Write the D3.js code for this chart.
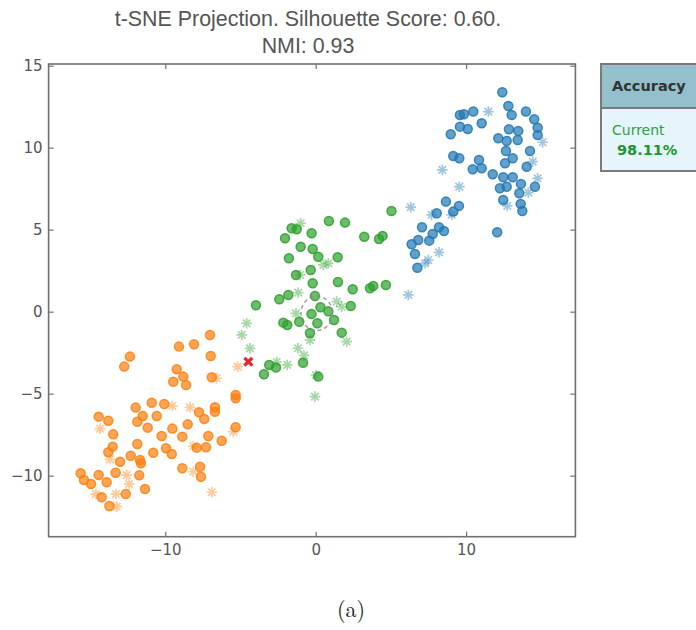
<!DOCTYPE html>
<html>
<head>
<meta charset="utf-8">
<script src="https://cdn.jsdelivr.net/npm/d3@7"></script>
<style>
  body { margin: 0; background: #fff; }
  svg { display: block; }
</style>
</head>
<body>
<svg id="chart" width="696" height="630"></svg>
<script>
// t-SNE points, [x, y]
var orangeCircles = [
    [-7.03, -1.42], [-9.09, -2.13], [-8.09, -1.99], [-12.35, -2.74], [-12.73, -3.35],
    [-6.98, -2.70], [-9.24, -3.51], [-8.80, -3.96], [-9.47, -4.27], [-8.62, -4.47],
    [-6.91, -4.00], [-5.32, -5.08], [-5.32, -5.28], [-10.90, -5.55], [-10.07, -5.63],
    [-11.97, -5.85], [-6.70, -5.83], [-6.70, -6.10], [-7.76, -6.13], [-7.41, -6.54],
    [-14.43, -6.40], [-13.79, -6.65], [-11.50, -6.36], [-10.57, -6.36], [-11.86, -6.71],
    [-8.51, -6.87], [-11.17, -7.07], [-9.53, -7.13], [-5.32, -7.05], [-13.46, -7.48],
    [-10.24, -7.58], [-8.87, -7.62], [-7.14, -7.58], [-6.25, -7.87], [-11.86, -8.07],
    [-13.50, -8.23], [-13.79, -8.57], [-9.95, -8.33], [-9.57, -8.68], [-7.91, -8.29],
    [-7.29, -8.27], [-10.80, -8.60], [-12.30, -8.78], [-13.01, -9.15], [-11.68, -9.04],
    [-11.62, -9.24], [-8.87, -9.55], [-7.69, -9.45], [-7.63, -10.06], [-15.63, -9.85],
    [-15.41, -10.26], [-14.94, -10.51], [-14.43, -9.96], [-13.90, -10.40], [-13.30, -9.82],
    [-11.73, -9.98], [-11.35, -10.81], [-12.63, -11.12], [-14.23, -11.32], [-13.72, -11.85]
];
var orangeStars = [
    [-5.19, -3.35], [-6.58, -4.06], [-9.53, -5.75], [-8.36, -5.83], [-14.34, -7.13],
    [-5.48, -7.32], [-8.14, -8.19], [-13.68, -9.00], [-8.14, -9.76], [-12.57, -9.96],
    [-12.41, -10.52], [-14.61, -11.12], [-13.28, -11.12], [-13.23, -11.89], [-6.91, -11.01]
];
var greenCircles = [
    [5.04, 6.14], [0.88, 5.53], [1.95, 5.43], [3.23, 4.57], [4.21, 4.43],
    [4.45, 4.62], [-1.60, 5.09], [-1.26, 5.02], [-0.27, 4.78], [-2.04, 4.48],
    [-1.00, 3.96], [-0.20, 3.82], [-1.78, 3.26], [0.17, 3.35], [1.46, 3.32],
    [-0.33, 2.54], [-1.31, 2.24], [-0.20, 1.73], [1.48, 1.81], [2.46, 1.37],
    [3.61, 1.43], [3.83, 1.57], [4.67, 1.63], [-1.82, 1.02], [-2.42, 0.76],
    [-3.97, 0.39], [-0.05, 0.96], [0.32, 0.27], [-0.28, -0.14], [0.84, 0.02],
    [2.33, 0.35], [1.22, -0.51], [0.11, -0.71], [-1.09, -0.61], [-2.15, -0.67],
    [-1.89, -0.81], [-0.38, -1.30], [1.73, -1.28], [-3.09, -3.25], [-2.64, -3.40],
    [-0.84, -3.11], [-3.44, -3.82], [0.17, -3.96]
];
var greenStars = [
    [-1.00, 5.39], [0.51, 2.85], [0.84, 2.95], [-1.04, 2.24], [-1.16, 1.16],
    [1.40, 0.61], [1.73, 0.30], [-1.31, -0.10], [-4.59, -0.71], [-4.92, -1.42],
    [-0.38, -1.73], [2.06, -1.83], [-4.37, -2.24], [-1.18, -2.23], [-0.78, -2.67],
    [-1.89, -3.25], [-2.59, -3.07], [0.02, -3.86], [-0.05, -5.18]
];
var blueCircles = [
    [12.41, 13.38], [12.81, 12.54], [13.03, 11.99], [13.98, 12.20], [14.53, 11.73],
    [14.76, 11.22], [14.76, 10.77], [10.48, 12.20], [9.59, 11.99], [9.86, 12.04],
    [11.04, 11.49], [9.59, 11.28], [10.11, 11.14], [8.98, 10.82], [12.85, 11.12],
    [13.47, 11.02], [12.14, 10.57], [12.70, 10.41], [13.43, 10.47], [14.25, 9.80],
    [12.65, 9.80], [13.10, 9.35], [12.59, 9.05], [14.03, 8.84], [9.15, 9.49],
    [9.55, 9.35], [10.86, 9.25], [10.44, 8.68], [11.04, 8.74], [11.77, 8.38],
    [12.47, 8.20], [13.10, 8.20], [12.25, 7.52], [12.70, 7.62], [13.65, 7.79],
    [14.58, 7.62], [13.54, 7.22], [12.47, 6.81], [13.63, 6.57], [13.74, 6.14],
    [12.07, 4.84], [8.66, 6.71], [9.53, 6.45], [9.15, 6.10], [8.05, 6.00],
    [7.07, 5.15], [8.20, 5.15], [8.53, 4.92], [7.78, 4.74], [6.82, 4.37],
    [7.55, 4.33], [6.38, 4.11], [6.60, 3.52], [6.76, 2.68]
];
var blueStars = [
    [11.48, 12.20], [15.09, 10.33], [14.43, 9.15], [14.76, 8.13], [14.14, 7.26],
    [12.74, 6.45], [8.42, 8.64], [9.55, 7.62], [6.32, 6.37], [7.71, 5.90],
    [9.04, 5.90], [8.20, 3.62], [7.49, 3.15], [7.27, 2.95], [6.16, 1.02]
];
var misclassified = [[-4.48, -3.05]];
var focus = { x: 0.07, y: -0.1, r: 1.05 };

var xTicks = [-10, 0, 10];
var yTicks = [-10, -5, 0, 5, 10, 15];
var titleLines = ['t-SNE Projection. Silhouette Score: 0.60.', 'NMI: 0.93'];
var accuracyLabel = 'Current';
var accuracyValue = '98.11%';

var colors = { orange: '#ff7f0e', green: '#2ca02c', blue: '#1f77b4' };

var svg = d3.select('#chart');
// note: "top" is taken by window.top, so plot edges get their own names
var plotLeft = 48.6, plotRight = 575.4, plotTop = 64, plotBottom = 536.7;

var x = d3.scaleLinear().domain([-17.76, 17.27]).range([plotLeft, plotRight]);
var y = d3.scaleLinear().domain([-13.72, 15.1]).range([plotBottom, plotTop]);

var axisColor = '#707070';
var tickFont = '"DejaVu Sans", Verdana, sans-serif';

// title
svg.append('g')
    .selectAll('text')
    .data(titleLines)
    .enter().append('text')
        .attr('x', 308)
        .attr('y', function(d, i) { return 26 + i * 27; })
        .attr('text-anchor', 'middle')
        .attr('font-family', '"Liberation Sans", Arial, sans-serif')
        .attr('font-size', 21.4)
        .attr('fill', '#555')
        .text(function(d) { return d; });

// axes, ticks pointing inward, mirrored on top and right
function styleAxis(g) {
    g.select('.domain').remove();
    g.selectAll('line').attr('stroke', axisColor).attr('stroke-width', 1.2);
    g.selectAll('text')
        .attr('font-family', tickFont)
        .attr('font-size', 15)
        .attr('fill', '#555');
}

svg.append('g')
    .attr('transform', 'translate(0,' + plotBottom + ')')
    .call(d3.axisBottom(x).tickValues(xTicks).tickSize(-5).tickPadding(8))
    .call(styleAxis);

svg.append('g')
    .attr('transform', 'translate(0,' + plotTop + ')')
    .call(d3.axisTop(x).tickValues(xTicks).tickSize(-5).tickFormat(''))
    .call(styleAxis);

svg.append('g')
    .attr('transform', 'translate(' + plotLeft + ',0)')
    .call(d3.axisLeft(y).tickValues(yTicks).tickSize(-5).tickPadding(6))
    .call(styleAxis);

svg.append('g')
    .attr('transform', 'translate(' + plotRight + ',0)')
    .call(d3.axisRight(y).tickValues(yTicks).tickSize(-5).tickFormat(''))
    .call(styleAxis);

svg.append('rect')
    .attr('x', plotLeft)
    .attr('y', plotTop)
    .attr('width', plotRight - plotLeft)
    .attr('height', plotBottom - plotTop)
    .attr('fill', 'none')
    .attr('stroke', axisColor)
    .attr('stroke-width', 1.6);

// markers
var plot = svg.append('g');

var starPath = (function() {
    var r = 5.3, p = '';
    [0, 45, 90, 135].forEach(function(a) {
        var t = a * Math.PI / 180;
        var dx = r * Math.cos(t), dy = r * Math.sin(t);
        p += 'M' + (-dx) + ',' + (-dy) + 'L' + dx + ',' + dy;
    });
    return p;
})();

function drawStars(data, color) {
    plot.append('g')
        .selectAll('path')
        .data(data)
        .enter().append('path')
            .attr('d', starPath)
            .attr('transform', function(d) { return 'translate(' + x(d[0]) + ',' + y(d[1]) + ')'; })
            .attr('stroke', color)
            .attr('stroke-width', 1.7)
            .attr('stroke-opacity', 0.42)
            .attr('fill', 'none');
}

function drawCircles(data, color) {
    plot.append('g')
        .selectAll('circle')
        .data(data)
        .enter().append('circle')
            .attr('cx', function(d) { return x(d[0]); })
            .attr('cy', function(d) { return y(d[1]); })
            .attr('r', 4.5)
            .attr('fill', color)
            .attr('fill-opacity', 0.7)
            .attr('stroke', color)
            .attr('stroke-opacity', 0.85)
            .attr('stroke-width', 1.5);
}

drawStars(orangeStars, colors.orange);
drawStars(greenStars, colors.green);
drawStars(blueStars, colors.blue);
drawCircles(orangeCircles, colors.orange);
drawCircles(greenCircles, colors.green);
drawCircles(blueCircles, colors.blue);

// dashed focus ring
plot.append('ellipse')
    .attr('cx', x(focus.x))
    .attr('cy', y(focus.y))
    .attr('rx', x(focus.r) - x(0))
    .attr('ry', y(0) - y(focus.r))
    .attr('fill', 'none')
    .attr('stroke', '#888')
    .attr('stroke-opacity', 0.8)
    .attr('stroke-width', 1.5)
    .attr('stroke-dasharray', '4,3');

plot.selectAll('path.miss')
    .data(misclassified)
    .enter().append('path')
        .attr('class', 'miss')
        .attr('d', 'M-2.8,-2.8L2.8,2.8M-2.8,2.8L2.8,-2.8')
        .attr('transform', function(d) { return 'translate(' + x(d[0]) + ',' + y(d[1]) + ')'; })
        .attr('stroke', '#e8262a')
        .attr('stroke-width', 3.2)
        .attr('stroke-linecap', 'square');

// accuracy box, cut off by the right edge
var box = svg.append('g').attr('transform', 'translate(601,64)');
box.append('rect')
    .attr('width', 110).attr('height', 44)
    .attr('fill', '#94bfcc')
    .attr('stroke', '#7a7a7a').attr('stroke-width', 2);
box.append('rect')
    .attr('y', 44).attr('width', 110).attr('height', 63)
    .attr('fill', '#e6f5fb')
    .attr('stroke', '#7a7a7a').attr('stroke-width', 2);
box.append('text')
    .attr('x', 11).attr('y', 27)
    .attr('font-family', tickFont)
    .attr('font-weight', 'bold')
    .attr('font-size', 14.5)
    .attr('fill', '#333')
    .text('Accuracy');
box.append('text')
    .attr('x', 11).attr('y', 71)
    .attr('font-family', tickFont)
    .attr('font-size', 14)
    .attr('fill', '#2e9e3e')
    .text(accuracyLabel);
box.append('text')
    .attr('x', 16).attr('y', 91)
    .attr('font-family', tickFont)
    .attr('font-weight', 'bold')
    .attr('font-size', 14.5)
    .attr('fill', '#22942f')
    .text(accuracyValue);

// caption
svg.append('text')
    .attr('x', 351)
    .attr('y', 617)
    .attr('text-anchor', 'middle')
    .attr('font-family', '"Latin Modern Roman", "Liberation Serif", serif')
    .attr('font-size', 22)
    .attr('fill', '#222')
    .text('(a)');
</script>
</body>
</html>
